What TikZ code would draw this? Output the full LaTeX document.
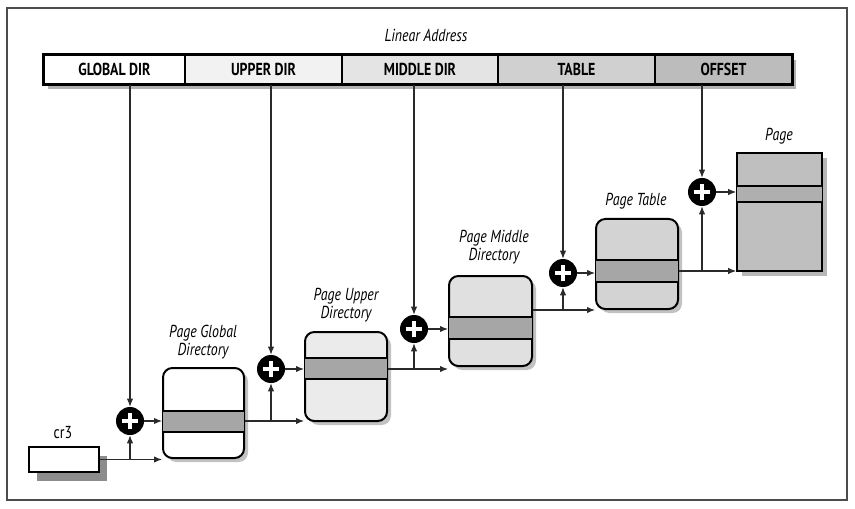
\documentclass[tikz,border=0pt]{standalone}
\usepackage{fontspec}
\setmainfont{PT Sans}[FakeStretch=0.8]
\usetikzlibrary{arrows.meta,shadows,fit}
\definecolor{cUpper}{HTML}{F2F2F2}
\definecolor{cMiddle}{HTML}{E4E4E4}
\definecolor{cTable}{HTML}{D0D0D0}
\definecolor{cOffset}{HTML}{BCBCBC}
\definecolor{fPUD}{HTML}{EBEBEB}
\definecolor{fPMD}{HTML}{E0E0E0}
\definecolor{fPT}{HTML}{D3D3D3}
\definecolor{fPage}{HTML}{BFBFBF}
\definecolor{bandgray}{HTML}{A6A6A6}
\definecolor{linegray}{HTML}{2A2A2A}
\begin{document}
\begin{tikzpicture}[x=0.75pt,y=-0.75pt,
  cell/.style={draw=black,line width=1.1pt,inner sep=0pt},
  celltext/.style={font=\bfseries\fontsize{13}{15}\selectfont,inner sep=0pt},
  dirbox/.style={draw=black,line width=1.5pt,rounded corners=7pt,inner sep=0pt,
     drop shadow={shadow xshift=3pt,shadow yshift=-3pt,fill=black!40,opacity=.6}},
  pagebox/.style={draw=black,line width=1.3pt,inner sep=0pt,
     drop shadow={shadow xshift=4pt,shadow yshift=-4pt,fill=black!40,opacity=.7}},
  bandline/.style={line width=1.1pt,black},
  lbl/.style={font=\itshape\fontsize{13}{13.5}\selectfont,align=center,inner sep=0pt},
  plus/.style={circle,fill=black,minimum size=21pt,inner sep=0pt,
     path picture={\draw[white,line width=3.6pt]
        ([xshift=-6.2pt]path picture bounding box.center) -- ([xshift=6.2pt]path picture bounding box.center)
        ([yshift=-6.2pt]path picture bounding box.center) -- ([yshift=6.2pt]path picture bounding box.center);}},
  con/.style={draw=linegray,line width=0.8pt},
  arr/.style={con,-{Latex[length=6pt,width=4.8pt]}}
]
\useasboundingbox (0,0) rectangle (855,509);
% frame
\draw[black!70,line width=0.8pt] (7,8) rectangle (847,500);

% linear address bar
\node[lbl] (la) at (426,35) {Linear Address};
\fill[black!30] (48,60) rectangle (796,89);
\node[cell,fill=white,fit={(44,55)(185,84)}] (gd) {};
\node[cell,fill=cUpper,fit={(185,55)(342,84)}] (ud) {};
\node[cell,fill=cMiddle,fit={(342,55)(498,84)}] (md) {};
\node[cell,fill=cTable,fit={(498,55)(655,84)}] (tb) {};
\node[cell,fill=cOffset,fit={(655,55)(792,84)}] (of) {};
\draw[black,line width=1.6pt] (gd.north west) rectangle (of.south east);
\node[celltext] (tgd) at (gd.center) {GLOBAL DIR};
\node[celltext] (tud) at (ud.center) {UPPER DIR};
\node[celltext] (tmd) at (md.center) {MIDDLE DIR};
\node[celltext] (ttb) at (tb.center) {TABLE};
\node[celltext] (tof) at (of.center) {OFFSET};

% cr3
\node[draw=black,line width=1.4pt,fill=white,inner sep=0pt,fit={(29,447)(99,472)},
  drop shadow={shadow xshift=6pt,shadow yshift=-7pt,fill=black!45,opacity=1}] (cr3) {};
\node[font=\fontsize{13}{15}\selectfont,inner sep=0pt] (cr3l) at (63,433) {cr3};

% directory boxes
\node[dirbox,fill=white,fit={(163,368)(244,458)}] (pgd) {};
\fill[bandgray] ([xshift=0.7pt]pgd.west |- 0,411) rectangle ([xshift=-0.7pt]pgd.east |- 0,432);
\draw[bandline] (pgd.west |- 0,411) -- (pgd.east |- 0,411) (pgd.west |- 0,432) -- (pgd.east |- 0,432);

\node[dirbox,fill=fPUD,fit={(305,332)(387,421)}] (pud) {};
\fill[bandgray] ([xshift=0.7pt]pud.west |- 0,358) rectangle ([xshift=-0.7pt]pud.east |- 0,379);
\draw[bandline] (pud.west |- 0,358) -- (pud.east |- 0,358) (pud.west |- 0,379) -- (pud.east |- 0,379);

\node[dirbox,fill=fPMD,fit={(449,276)(532,366)}] (pmd) {};
\fill[bandgray] ([xshift=0.7pt]pmd.west |- 0,317) rectangle ([xshift=-0.7pt]pmd.east |- 0,339);
\draw[bandline] (pmd.west |- 0,317) -- (pmd.east |- 0,317) (pmd.west |- 0,339) -- (pmd.east |- 0,339);

\node[dirbox,fill=fPT,fit={(596,219)(678,309)}] (pt) {};
\fill[bandgray] ([xshift=0.7pt]pt.west |- 0,260) rectangle ([xshift=-0.7pt]pt.east |- 0,282);
\draw[bandline] (pt.west |- 0,260) -- (pt.east |- 0,260) (pt.west |- 0,282) -- (pt.east |- 0,282);

\node[pagebox,fill=fPage,fit={(737,153)(822,271)}] (pg) {};
\fill[bandgray!90] ([xshift=0.6pt]pg.west |- 0,186) rectangle ([xshift=-0.6pt]pg.east |- 0,202);
\draw[bandline] (pg.west |- 0,186) -- (pg.east |- 0,186) (pg.west |- 0,202) -- (pg.east |- 0,202);

% labels
\node[lbl] (lpgd) at (203,342) {Page Global\\Directory};
\node[lbl] (lpud) at (346,305) {Page Upper\\Directory};
\node[lbl] (lpmd) at (494,247) {Page Middle\\Directory};
\node[lbl] (lpt) at (636,201) {Page Table};
\node[lbl] (lpg) at (779,136) {Page};

% adders
\node[plus] (p1) at (130,421) {};
\node[plus] (p2) at (271,369) {};
\node[plus] (p3) at (414,329) {};
\node[plus] (p4) at (563,273) {};
\node[plus] (p5) at (702,192) {};

% from linear address
\draw[arr] (p1 |- gd.south) -- (p1);
\draw[arr] (p2 |- ud.south) -- (p2);
\draw[arr] (p3 |- md.south) -- (p3);
\draw[arr] (p4 |- tb.south) -- (p4);
\draw[arr] (p5 |- of.south) -- (p5);

% adder outputs
\draw[arr] (p1) -- (p1 -| pgd.west);
\draw[arr] (p2) -- (p2 -| pud.west);
\draw[arr] (p3) -- (p3 -| pmd.west);
\draw[arr] (p4) -- (p4 -| pt.west);
\draw[arr] (p5) -- (p5 -| pg.west);

% base chain
\draw[arr] (cr3.east) -- (cr3.east -| pgd.west);
\draw[arr] (cr3.east -| p1) -- (p1);
\draw[arr] (pgd.east |- 0,421) -- (pud.west |- 0,421);
\draw[arr] (p2 |- 0,421) -- (p2);
\draw[arr] (pud.east |- 0,369) -- (pmd.west |- 0,369);
\draw[arr] (p3 |- 0,369) -- (p3);
\draw[arr] (pmd.east |- 0,310) -- (pt.west |- 0,310);
\draw[arr] (p4 |- 0,310) -- (p4);
\draw[arr] (pt.east |- 0,271) -- (pg.west |- 0,271);
\draw[arr] (p5 |- 0,271) -- (p5);
\end{tikzpicture}
\end{document}
